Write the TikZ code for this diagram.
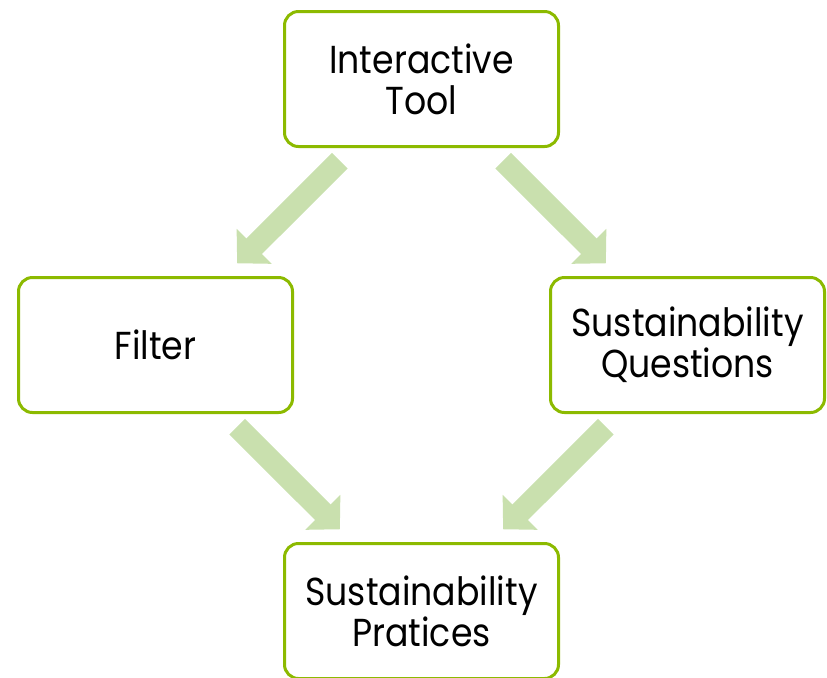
\documentclass[tikz,border=0pt]{standalone}
\usepackage{fontspec}
\setmainfont{Poppins}[FakeStretch=0.89]
\usetikzlibrary{arrows.meta,positioning}
\definecolor{keretzold}{RGB}{140,186,0}
\definecolor{nyilzold}{RGB}{201,224,174}
\tikzset{
  doboz/.style={draw=keretzold,line width=1.5pt,rounded corners=7pt,fill=white,align=center,
                minimum width=137pt,minimum height=67.5pt,inner sep=2pt},
  vnyil/.style={draw=nyilzold,line width=11pt,-{Triangle[length=12pt,width=24pt]},
                shorten <=9pt,shorten >=9pt},
}
\begin{document}
\begin{tikzpicture}[font=\fontsize{19.5}{20.5}\selectfont,node distance=133pt and 133pt,on grid]
  \useasboundingbox (0,0) rectangle (413.5pt,-338.5pt);
  \node[doboz] (eszkoz) at (210.75pt,-39.5pt) {Interactive\\ Tool};
  \node[doboz,below left=of eszkoz] (szuro) {Filter};
  \node[doboz,below right=of eszkoz] (kerdes) {Sustainability\\ Questions};
  \node[doboz,below right=of szuro] (gyakorlat) {Sustainability\\ Pratices};
  \draw[vnyil] (eszkoz) -- (szuro);
  \draw[vnyil] (eszkoz) -- (kerdes);
  \draw[vnyil] (szuro) -- (gyakorlat);
  \draw[vnyil] (kerdes) -- (gyakorlat);
\end{tikzpicture}
\end{document}
